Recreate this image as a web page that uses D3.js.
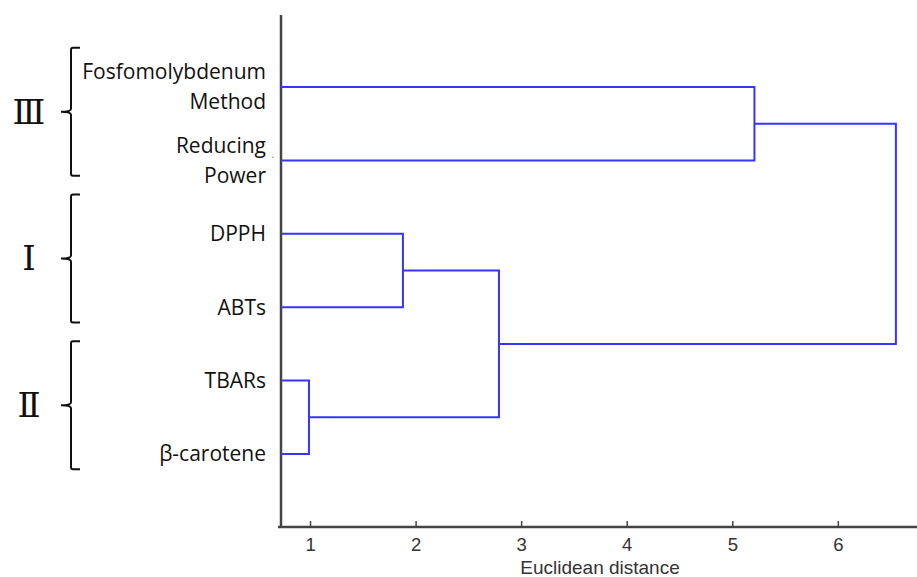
<!DOCTYPE html>
<html><head><meta charset="utf-8">
<script src="https://cdn.jsdelivr.net/npm/d3@7"></script>
<style>body{margin:0;background:#fff}svg{display:block}</style>
</head><body>
<svg id="c" width="917" height="577"></svg>
<script>
// ---- data ----
const leaves = ["Fosfomolybdenum Method", "Reducing Power", "DPPH", "ABTs", "TBARs", "β-carotene"];
const leafLines = [["Fosfomolybdenum", "Method"], ["Reducing", "Power"], ["DPPH"], ["ABTs"], ["TBARs"], ["β-carotene"]];
// merges: [childA, childB, distance]; indices >= 6 refer to earlier merges
const merges = [[4, 5, 0.99], [2, 3, 1.88], [7, 6, 2.79], [0, 1, 5.21], [9, 8, 6.55]];
const groups = [{name: "Ⅲ", members: [0, 1]}, {name: "Ⅰ", members: [2, 3]}, {name: "Ⅱ", members: [4, 5]}];
const xTicks = [1, 2, 3, 4, 5, 6];
const xTitle = "Euclidean distance";

// ---- scales ----
const svg = d3.select("#c");
const x = d3.scaleLinear().domain([0.725, 6.75]).range([281, 917]);
const y = d3.scalePoint().domain(leaves).range([87, 454]);
const axisY = 527, axisTop = 15;
const blue = "#3535ff";
const axFont = "'Liberation Sans', Arial, sans-serif";

// axes
const gx = svg.append("g").attr("transform", `translate(0,${axisY})`)
  .call(d3.axisBottom(x).tickValues(xTicks).tickFormat(d3.format("d")).tickSizeInner(-6).tickSizeOuter(0).tickPadding(11));
gx.select(".domain").remove();
gx.selectAll(".tick line").attr("stroke", "#444").attr("stroke-width", 1.5);
gx.selectAll(".tick text").attr("font-family", axFont).attr("font-size", 18.5).attr("fill", "#333");
svg.append("line").attr("x1", x.range()[0] - 3).attr("x2", x.range()[1]).attr("y1", axisY).attr("y2", axisY)
  .attr("stroke", "#444").attr("stroke-width", 2.5);
svg.append("line").attr("x1", x.range()[0]).attr("x2", x.range()[0]).attr("y1", axisTop).attr("y2", axisY)
  .attr("stroke", "#444").attr("stroke-width", 2.5);
svg.append("text").attr("x", 600).attr("y", 574).attr("text-anchor", "middle")
  .attr("font-family", axFont).attr("font-size", 19).attr("fill", "#333").text(xTitle);

// dendrogram nodes
const nodes = leaves.map(l => ({x: x.domain()[0], y: y(l)}));
merges.forEach(([a, b, h]) => {
  const A = nodes[a], B = nodes[b];
  svg.append("path")
    .attr("d", `M${x(A.x)},${A.y}H${x(h)}V${B.y}H${x(B.x)}`)
    .attr("fill", "none").attr("stroke", blue).attr("stroke-width", 2);
  nodes.push({x: h, y: (A.y + B.y) / 2});
});

// leaf labels
const lblFont = "'Open Sans', Lato, sans-serif";
leaves.forEach((l, i) => {
  const lines = leafLines[i];
  const t = svg.append("text").attr("text-anchor", "end").attr("font-family", lblFont)
    .attr("font-size", 21).attr("fill", "#111");
  lines.forEach((s, j) => {
    const off = lines.length === 1 ? 0 : (j === 0 ? -15 : 15);
    t.append("tspan").attr("x", 266).attr("y", y(l) + off).attr("dy", "0.35em").text(s);
  });
});
// tiny artifact dot
svg.append("circle").attr("cx", 273).attr("cy", y(leaves[1]) - 3).attr("r", 0.8).attr("fill", "#999");

// braces + roman numerals
groups.forEach(g => {
  const ys = g.members.map(i => y(leaves[i]));
  const c = d3.mean(ys) - 12, h = 64;
  const xv = 71, xr = 80, xt = 61;
  svg.append("path")
    .attr("d", `M${xr},${c - h}H${xv + 2}Q${xv},${c - h} ${xv},${c - h + 2}V${c - 3}Q${xv},${c} ${xt},${c}Q${xv},${c} ${xv},${c + 3}V${c + h - 2}Q${xv},${c + h} ${xv + 2},${c + h}H${xr}`)
    .attr("fill", "none").attr("stroke", "#111").attr("stroke-width", 2);
  svg.append("text").attr("x", 29).attr("y", c).attr("dy", "0.35em").attr("text-anchor", "middle")
    .attr("font-family", "'Liberation Serif', 'DejaVu Serif', serif").attr("font-size", 34).attr("fill", "#111")
    .text(g.name);
});
</script>
</body></html>
